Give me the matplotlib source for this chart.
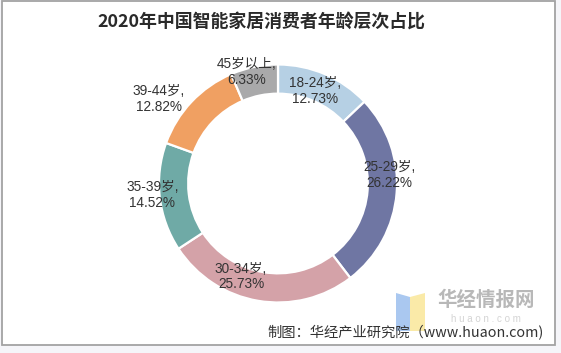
import numpy as np
import matplotlib
matplotlib.use("Agg")
import matplotlib.pyplot as plt
from matplotlib.patches import Rectangle, Polygon

# ---- data ----
categories = ["18-24岁", "25-29岁", "30-34岁", "35-39岁", "39-44岁", "45岁以上"]
shares = [12.73, 26.22, 25.73, 14.52, 12.82, 6.33]
colors = ["#b6d0e4", "#6f76a3", "#d4a2a8", "#6faaa6", "#f0a062", "#a9a9aa"]
title = "2020年中国智能家居消费者年龄层次占比"
source = "制图：华经产业研究院（www.huaon.com)"

# ---- layout (label radius / angle tweak per wedge, in radius units / degrees) ----
label_r = [0.84, 0.94, 0.84, 1.06, 1.23, 0.97]
label_dang = [1.5, 9.0, -12.0, -1.5, 8.0, 4.0]

W, H = 561, 353
fig = plt.figure(figsize=(W / 100, H / 100), dpi=100, facecolor="#f5f5f9")

def fx(px):
    return px / W

def fy(py):
    return 1 - py / H

# frame
fig.patches.append(Rectangle((fx(2), fy(345)), fx(553), 344 / H, transform=fig.transFigure,
                             facecolor="white", edgecolor="#a3a3a3", linewidth=1.3, zorder=-10))

cjk = ["Liberation Sans", "Noto Sans CJK SC"]

fig.text(fx(261), fy(22), title, ha="center", va="center", fontsize=12.9,
         fontweight="bold", family=["Noto Sans CJK SC"], color="#2a2a2a")

# donut axes
cx, cy, R = 278, 183.5, 119
ax = fig.add_axes([fx(cx - R), fy(cy + R), 2 * R / W, 2 * R / H], zorder=5)
wedges, _ = ax.pie(shares, colors=colors, startangle=90, counterclock=False,
                   radius=1, wedgeprops=dict(width=0.245, edgecolor="white", linewidth=1.6))
ax.set_xlim(-1, 1)
ax.set_ylim(-1, 1)
ax.set_aspect("auto")
ax.axis("off")
ax.patch.set_alpha(0)

for w, cat, v, r, da in zip(wedges, categories, shares, label_r, label_dang):
    mid = np.deg2rad((w.theta1 + w.theta2) / 2 + da)
    ax.text(r * np.cos(mid), r * np.sin(mid), f"{cat},\n{v:.2f}%", ha="center", va="center",
            fontsize=9.8, family=cjk, color="#333333", linespacing=1.15, clip_on=False)

# watermark logo
fig.patches.append(Polygon([(fx(396), fy(293)), (fx(410), fy(297)), (fx(410), fy(331)), (fx(396), fy(331))],
                           closed=True, transform=fig.transFigure, facecolor="#aac8f0", edgecolor="none"))
fig.patches.append(Polygon([(fx(410), fy(297)), (fx(425), fy(293)), (fx(425), fy(331)), (fx(410), fy(331))],
                           closed=True, transform=fig.transFigure, facecolor="#faeaa8", edgecolor="none"))
fig.text(fx(486), fy(300), "华经情报网", ha="center", va="center", fontsize=14,
         fontweight="bold", family=["Noto Sans CJK SC"], color="#b8b8b8")
fig.text(fx(486), fy(319), "h u a o n . c o m", ha="center", va="center", fontsize=7,
         family=cjk, color="#d4d4d4")

fig.text(fx(267), fy(333), source, ha="left", va="center", fontsize=10.3,
         family=["Noto Sans CJK SC"], color="#333333")

fig.savefig("out.png", dpi=100, facecolor=fig.get_facecolor())
